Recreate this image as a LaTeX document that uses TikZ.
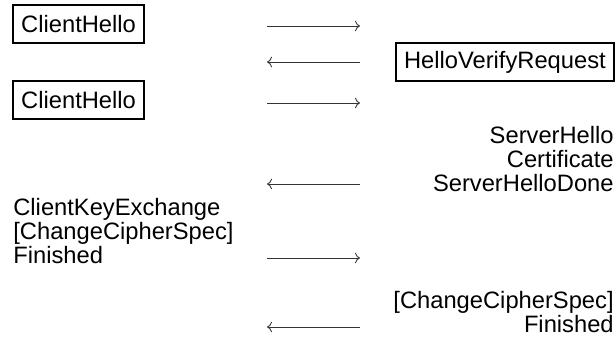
\documentclass[tikz,border=0pt]{standalone}
\usepackage{fontspec}
\setmainfont{Liberation Sans}
\usetikzlibrary{arrows.meta, positioning}

\begin{document}
\begin{tikzpicture}[
  x=0.02cm, y=-0.02cm,
  msg/.style={rectangle,draw=black,line width=1.3pt,inner xsep=4.6pt,minimum height=0.76cm,font=\fontsize{13.5}{16}\selectfont},
  txt/.style={inner sep=0pt,font=\fontsize{13.5}{16}\selectfont},
  arr/.style={-{To[scale=1.05]},line width=0.5pt,black!80}
]
  \useasboundingbox (0,0) rectangle (616,347);

  \node[msg,anchor=west](ch1)  at (12,24)   {ClientHello};
  \node[msg,anchor=east](hvr)  at (615,62)  {HelloVerifyRequest};
  \node[msg,anchor=west](ch2)  at (12,100)  {ClientHello};
  \node[txt,anchor=base east](sh)   at (614,144) {ServerHello};
  \node[txt,anchor=base east](cert) at (614,168) {Certificate};
  \node[txt,anchor=base east](shd)  at (614,192) {ServerHelloDone};
  \node[txt,anchor=base west](cke)  at (13,216)  {ClientKeyExchange};
  \node[txt,anchor=base west](ccs)  at (13,240)  {[ChangeCipherSpec]};
  \node[txt,anchor=base west](fin)  at (13,264)  {Finished};
  \node[txt,anchor=base east](sccs) at (614,309) {[ChangeCipherSpec]};
  \node[txt,anchor=base east](sfin) at (614,333) {Finished};

  % arrow ends
  \coordinate (l1) at (267,26);  \coordinate (r1) at (360,26);
  \coordinate (l2) at (267,62);  \coordinate (r2) at (360,62);
  \coordinate (l3) at (267,103); \coordinate (r3) at (360,103);
  \coordinate (l4) at (267,184); \coordinate (r4) at (360,184);
  \coordinate (l5) at (267,258); \coordinate (r5) at (360,258);
  \coordinate (l6) at (267,327); \coordinate (r6) at (360,327);

  \draw[arr](l1)--(r1); \draw[arr](r2)--(l2);
  \draw[arr](l3)--(r3); \draw[arr](r4)--(l4);
  \draw[arr](l5)--(r5); \draw[arr](r6)--(l6);
\end{tikzpicture}
\end{document}
